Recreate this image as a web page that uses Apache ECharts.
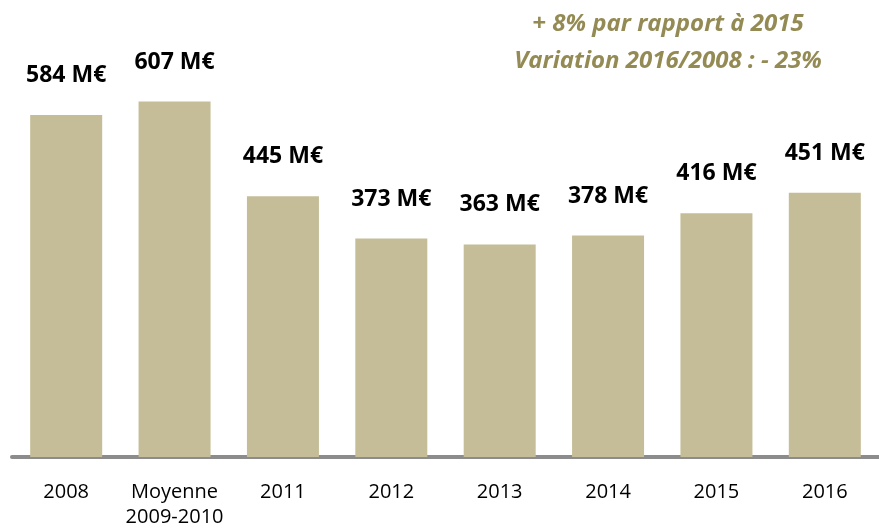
<!DOCTYPE html>
<html>
<head>
<meta charset="utf-8">
<script src="https://cdn.jsdelivr.net/npm/echarts@6/dist/echarts.min.js"></script>
<style>
  html, body { margin: 0; padding: 0; background: #fff; }
  #chart { width: 879px; height: 530px; }
</style>
</head>
<body>
<div id="chart"></div>
<script>
// catégories et valeurs (M€)
const categories = ['2008', 'Moyenne\n2009-2010', '2011', '2012', '2013', '2014', '2015', '2016'];
const values = [584, 607, 445, 373, 363, 378, 416, 451];
const noteLines = ['+ 8% par rapport à 2015', 'Variation 2016/2008 : - 23%'];

const chart = echarts.init(document.getElementById('chart'));

chart.setOption({
  animation: false,
  title: {
    text: noteLines.join('\n'),
    left: 663,
    top: 1,
    textAlign: 'center',
    textStyle: {
      fontFamily: 'Open Sans',
      fontSize: 24,
      fontWeight: 'bold',
      fontStyle: 'italic',
      color: '#948A54',
      lineHeight: 37
    }
  },
  grid: { left: 12, right: -1, top: 47, bottom: 67 },
  xAxis: {
    type: 'category',
    data: categories,
    axisLine: { lineStyle: { color: '#8C8C8C', width: 4 } },
    axisTick: { show: false },
    axisLabel: {
      color: '#000',
      fontFamily: 'Open Sans',
      fontSize: 20,
      lineHeight: 25,
      margin: 23,
      interval: 0
    }
  },
  yAxis: {
    type: 'value',
    min: 0,
    max: 700,
    show: false,
    splitLine: { show: false }
  },
  series: [{
    type: 'bar',
    data: values,
    barWidth: 72,
    itemStyle: { color: '#C4BD97' },
    label: {
      show: true,
      position: 'top',
      distance: 28,
      formatter: '{c} M€',
      color: '#000',
      fontFamily: 'Open Sans',
      fontWeight: 'bold',
      fontSize: 23
    }
  }]
});
</script>
</body>
</html>
